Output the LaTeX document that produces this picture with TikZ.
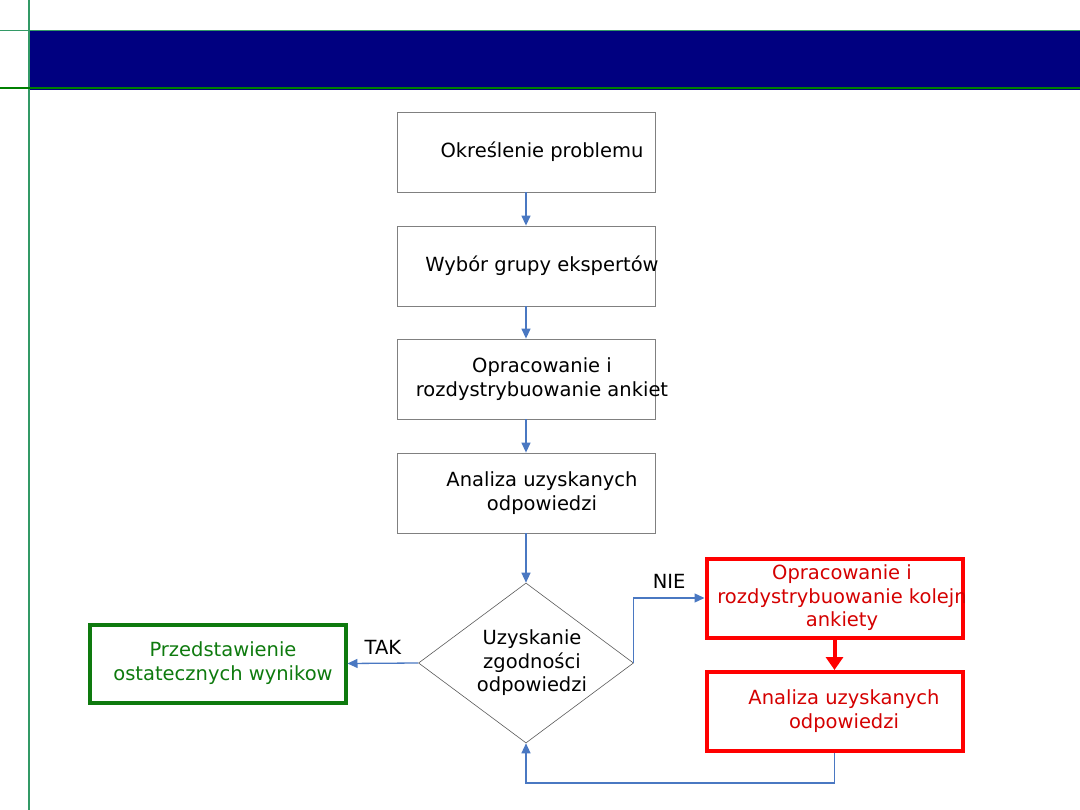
\documentclass[tikz,border=0pt]{standalone}
\usepackage{fontspec}
\setmainfont{DejaVu Sans}
\usetikzlibrary{arrows.meta,shapes.geometric}
\definecolor{barblue}{HTML}{000080}
\definecolor{rulegreen}{HTML}{339966}
\definecolor{darkgreen}{HTML}{008000}
\definecolor{flowblue}{HTML}{4A78C2}
\definecolor{boxgray}{HTML}{808080}
\definecolor{okgreen}{HTML}{0E7A0E}
\definecolor{alarmred}{HTML}{FF0000}
\definecolor{alarmtext}{HTML}{D40000}

\begin{document}
\begin{tikzpicture}[x=1pt, y=-1pt,
  every node/.style={font=\fontsize{19.5}{23.5}\selectfont, align=center},
  stepbox/.style={draw=boxgray, line width=0.8pt, minimum width=258pt, minimum height=80pt, inner sep=0pt},
  decision/.style={diamond, draw=boxgray!70!black, line width=0.6pt, minimum width=215pt, minimum height=160pt, aspect=1.34, inner sep=0pt},
  finalbox/.style={draw=okgreen, line width=4pt, minimum width=256pt, minimum height=78pt, inner sep=0pt, text=okgreen},
  redobox/.style={draw=alarmred, line width=4pt, minimum width=256pt, minimum height=79pt, inner sep=0pt},
  flow/.style={draw=flowblue, line width=1.3pt, -{Triangle[length=10pt,width=9pt]}},
  alarm/.style={draw=alarmred, line width=4pt, -{Triangle[length=13pt,width=17pt]}}]
\useasboundingbox (0,0) rectangle (1080,810);
% header
\fill[barblue] (30,31) rectangle (1080,90.5);
\draw[rulegreen, line width=1.3pt] (29,0) -- (29,810);
\draw[rulegreen, line width=1.3pt] (0,30.5) -- (1080,30.5);
\draw[darkgreen, line width=1.6pt] (0,88.3) -- (1080,88.3);
% main column
\foreach \n/\y/\t in {okr/152/{Określenie problemu}, wyb/266/{Wybór grupy ekspertów},
    opr/379/{Opracowanie i\\rozdystrybuowanie ankiet}, ana/493/{Analiza uzyskanych\\odpowiedzi}} {
  \node[stepbox] (\n) at (526,\y) {};
  \node (\n txt) at (542,\y) {\t};
}
\foreach \a/\b in {okr/wyb, wyb/opr, opr/ana} {
  \draw[flow] (\a) -- (\b);
}
\node[decision] (dec) at (526,663) {};
\node (dec txt) at (532,663) {Uzyskanie\\zgodności\\odpowiedzi};
\draw[flow] (ana) -- (dec);
% TAK branch
\node[finalbox] (wyn) at (217.5,663.5) {};
\node[text=okgreen] (wyn txt) at (223,663) {Przedstawienie\\ostatecznych wynikow};
\draw[flow] (dec.west) -- (wyn.east) node[midway, above=5pt] (tak) {TAK};
% NIE branch
\node[redobox] (kol) at (834.5,598) {};
\node[text=alarmtext] (kol txt) at (842,598) {Opracowanie i\\rozdystrybuowanie kolejn\\ankiety};
\node[redobox] (ana2) at (834.5,711.5) {};
\node[text=alarmtext] (ana2 txt) at (844,711) {Analiza uzyskanych\\odpowiedzi};
\draw[flow] (dec.east) |- (kol.west) node[pos=0.75, above=6pt] (nie) {NIE};
\draw[alarm] (kol) -- (ana2);
\draw[flow] (ana2.south) -- ++(0,30) -| (dec.south);
\end{tikzpicture}
\end{document}
